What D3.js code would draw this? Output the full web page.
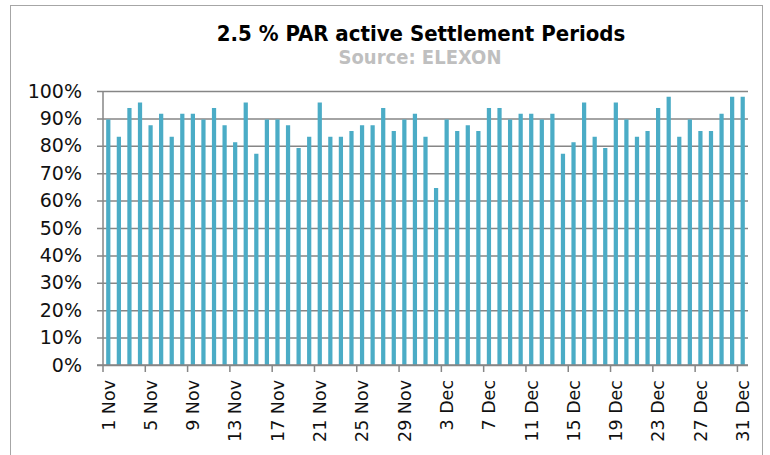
<!DOCTYPE html>
<html>
<head>
<meta charset="utf-8">
<script src="https://cdn.jsdelivr.net/npm/d3@7"></script>
<style>
  body { margin: 0; background: #fff; }
  svg { display: block; font-family: "DejaVu Sans", Verdana, sans-serif; }
</style>
</head>
<body>
<div id="chart"></div>
<script>
// share of settlement periods with PAR active (%)
var novValues = [89.6, 83.3, 93.8, 95.8, 87.5, 91.7, 83.3, 91.7, 91.7, 89.6,
                 93.8, 87.5, 81.3, 95.8, 77.1, 89.6, 89.6, 87.5, 79.2, 83.3,
                 95.8, 83.3, 83.3, 85.4, 87.5, 87.5, 93.8, 85.4, 89.6, 91.7];
var decValues = [83.3, 64.6, 89.6, 85.4, 87.5, 85.4, 93.8, 93.8, 89.6, 91.7,
                 91.7, 89.6, 91.7, 77.1, 81.3, 95.8, 83.3, 79.2, 95.8, 89.6,
                 83.3, 85.4, 93.8, 97.9, 83.3, 89.6, 85.4, 85.4, 91.7, 97.9, 97.9];
var yTicks = [0, 10, 20, 30, 40, 50, 60, 70, 80, 90, 100];
var labelEvery = 4;

var titleText = "2.5 % PAR active Settlement Periods",
	sourceText = "Source: ELEXON";

var barColor = '#4bacc6',
	gridColor = '#868686';

var days = d3.timeDay.range(new Date(2015, 10, 1), new Date(2016, 0, 1));
var fmt = d3.timeFormat("%-d %b");
var values = novValues.concat(decValues);
var data = days.map(function(d, i) { return { label: fmt(d), value: values[i], i: i }; });

var width = 770, height = 455;
var plotLeft = 103, plotRight = 748, plotTop = 91, plotBottom = 365;

var svg = d3.select("#chart")
	.append("svg")
	.attr("width", width)
	.attr("height", height);

// outer frame
svg.append("rect")
	.attr("x", 10.5).attr("y", 5.5)
	.attr("width", 752).attr("height", 470)
	.attr("fill", "none")
	.attr("stroke", "#a6a6a6");

var x = d3.scaleBand()
	.domain(data.map(function(d) { return d.i; }))
	.range([plotLeft, plotRight])
	.paddingInner(0.6)
	.paddingOuter(0.3);

var y = d3.scaleLinear()
	.domain([0, 100])
	.range([plotBottom, plotTop]);

var step = x.step();

// gridlines + y labels
var yAxis = d3.axisLeft(y)
	.tickValues(yTicks)
	.tickSize(-(plotRight - plotLeft))
	.tickPadding(21)
	.tickFormat(function(d) { return d + "%"; });

var gy = svg.append("g")
	.attr("transform", "translate(" + plotLeft + ",0)")
	.call(yAxis);
gy.select(".domain").remove();
gy.selectAll(".tick line")
	.attr("x1", -6)
	.attr("stroke", gridColor)
	.attr("stroke-width", 1.5);
gy.selectAll(".tick text")
	.attr("font-size", 19)
	.attr("font-family", "DejaVu Sans")
	.attr("fill", "#111");

// y axis line
svg.append("line")
	.attr("x1", plotLeft).attr("x2", plotLeft)
	.attr("y1", plotTop).attr("y2", plotBottom)
	.attr("stroke", gridColor)
	.attr("stroke-width", 1.5);

// bars
svg.append("g")
	.selectAll("rect")
	.data(data)
	.enter()
	.append("rect")
	.attr("x", function(d) { return x(d.i); })
	.attr("y", function(d) { return y(d.value); })
	.attr("width", x.bandwidth())
	.attr("height", function(d) { return y(0) - y(d.value); })
	.attr("fill", barColor);

// x axis line on top of bars
svg.append("line")
	.attr("x1", plotLeft - 6).attr("x2", plotRight)
	.attr("y1", plotBottom).attr("y2", plotBottom)
	.attr("stroke", gridColor)
	.attr("stroke-width", 1.5);

var labelled = data.filter(function(d) { return d.i % labelEvery === 0; });

// tick marks on category boundaries
svg.append("g")
	.selectAll("line")
	.data(labelled)
	.enter()
	.append("line")
	.attr("x1", function(d) { return x(d.i) + x.bandwidth() / 2 - step / 2; })
	.attr("x2", function(d) { return x(d.i) + x.bandwidth() / 2 - step / 2; })
	.attr("y1", plotBottom)
	.attr("y2", plotBottom + 7)
	.attr("stroke", gridColor)
	.attr("stroke-width", 1.5);

// rotated date labels
svg.append("g")
	.selectAll("text")
	.data(labelled)
	.enter()
	.append("text")
	.attr("transform", function(d) {
		return "translate(" + (x(d.i) + x.bandwidth() / 2) + "," + (plotBottom + 15) + ") rotate(-90)";
	})
	.attr("text-anchor", "end")
	.attr("dy", "0.36em")
	.attr("font-size", 17.5)
	.attr("fill", "#111")
	.text(function(d) { return d.label; });

// titles
svg.append("text")
	.attr("x", 421).attr("y", 41)
	.attr("text-anchor", "middle")
	.attr("font-family", "'DejaVu Sans Condensed', 'DejaVu Sans'")
	.attr("font-size", 22)
	.attr("font-weight", "bold")
	.attr("fill", "#000")
	.text(titleText);

svg.append("text")
	.attr("x", 420).attr("y", 64)
	.attr("text-anchor", "middle")
	.attr("font-family", "'DejaVu Sans Condensed', 'DejaVu Sans'")
	.attr("font-size", 20)
	.attr("font-weight", "bold")
	.attr("fill", "#bfbfbf")
	.text(sourceText);
</script>
</body>
</html>
